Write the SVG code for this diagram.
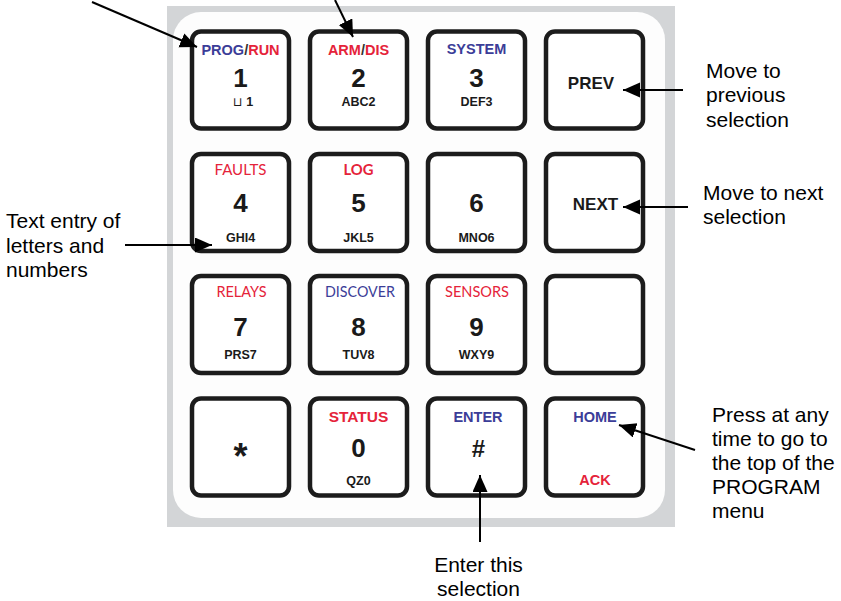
<svg xmlns="http://www.w3.org/2000/svg" width="841" height="601" viewBox="0 0 841 601">
  <style>
    .key { fill: #ffffff; stroke: #1c1c1c; stroke-width: 4.5; }
    .bl { font-family: "Liberation Sans", Arial, sans-serif; font-weight: bold; font-size: 14.5px; text-anchor: middle; }
    .gs { font-family: Lato, "Liberation Sans", sans-serif; font-size: 14.5px; text-anchor: middle; }
    .dg { font-family: "Liberation Sans", Arial, sans-serif; font-weight: bold; font-size: 26px; text-anchor: middle; fill: #1a1a1a; }
    .sb { font-family: "Liberation Sans", Arial, sans-serif; font-weight: bold; font-size: 12.5px; text-anchor: middle; fill: #1a1a1a; }
    .big { font-family: "Liberation Sans", Arial, sans-serif; font-weight: bold; font-size: 17px; text-anchor: middle; fill: #1a1a1a; }
    .blue { fill: #3b3d98; }
    .red { fill: #e5233a; }
    .dark { fill: #333333; }
    .note { font-family: "Liberation Sans", Arial, sans-serif; font-size: 21px; fill: #000000; }
    .conn { stroke: #000000; stroke-width: 2; fill: none; marker-end: url(#head); }
  </style>
  <defs>
    <marker id="head" markerUnits="userSpaceOnUse" markerWidth="18" markerHeight="16" refX="17" refY="7.5" orient="auto">
      <path d="M0,0 L17,7.5 L0,15 Z" fill="#000000"/>
    </marker>
  </defs>

  <rect width="841" height="601" fill="#ffffff"/>

  <!-- keypad housing -->
  <g id="housing">
    <rect x="167" y="6" width="508" height="521" fill="#d3d5d7"/>
    <rect x="173" y="12" width="492" height="506" rx="28" fill="#fdfdfd"/>
  </g>

  <!-- row 1 -->
  <g id="key-1">
    <rect class="key" x="192" y="31.5" width="97" height="97" rx="9"/>
    <text class="bl" x="240.5" y="54.5"><tspan class="blue">PROG</tspan><tspan class="dark">/</tspan><tspan class="red">RUN</tspan></text>
    <text class="dg" x="240.5" y="87">1</text>
    <text class="sb" x="243" y="106"><tspan style="font-family:'DejaVu Sans', sans-serif; font-weight:normal">⊔</tspan> 1</text>
  </g>
  <g id="key-2">
    <rect class="key" x="310" y="31.5" width="97" height="97" rx="9"/>
    <text class="bl" x="358.5" y="54.5"><tspan class="red">ARM</tspan><tspan class="dark">/</tspan><tspan class="red">DIS</tspan></text>
    <text class="dg" x="358.5" y="87">2</text>
    <text class="sb" x="358.5" y="106">ABC2</text>
  </g>
  <g id="key-3">
    <rect class="key" x="428" y="31.5" width="97" height="97" rx="9"/>
    <text class="bl blue" x="476.5" y="53.5">SYSTEM</text>
    <text class="dg" x="476.5" y="87">3</text>
    <text class="sb" x="476.5" y="106">DEF3</text>
  </g>
  <g id="key-prev">
    <rect class="key" x="546" y="31.5" width="97" height="97" rx="9"/>
    <text class="big" x="591" y="89">PREV</text>
  </g>

  <!-- row 2 -->
  <g id="key-4">
    <rect class="key" x="192" y="154" width="97" height="97" rx="9"/>
    <text class="gs red" x="240.5" y="175" textLength="52" lengthAdjust="spacingAndGlyphs">FAULTS</text>
    <text class="dg" x="240.5" y="212">4</text>
    <text class="sb" x="240.5" y="242">GHI4</text>
  </g>
  <g id="key-5">
    <rect class="key" x="310" y="154" width="97" height="97" rx="9"/>
    <text class="gs red" x="358.5" y="175" style="font-weight:bold" textLength="30" lengthAdjust="spacingAndGlyphs">LOG</text>
    <text class="dg" x="358.5" y="212">5</text>
    <text class="sb" x="358.5" y="242">JKL5</text>
  </g>
  <g id="key-6">
    <rect class="key" x="428" y="154" width="97" height="97" rx="9"/>
    <text class="dg" x="476.5" y="212">6</text>
    <text class="sb" x="476.5" y="242">MNO6</text>
  </g>
  <g id="key-next">
    <rect class="key" x="546" y="154" width="97" height="97" rx="9"/>
    <text class="big" x="595.5" y="210">NEXT</text>
  </g>

  <!-- row 3 -->
  <g id="key-7">
    <rect class="key" x="192" y="276" width="97" height="97" rx="9"/>
    <text class="gs red" x="241.5" y="297" textLength="50" lengthAdjust="spacingAndGlyphs">RELAYS</text>
    <text class="dg" x="240.5" y="336">7</text>
    <text class="sb" x="240.5" y="359">PRS7</text>
  </g>
  <g id="key-8">
    <rect class="key" x="310" y="276" width="97" height="97" rx="9"/>
    <text class="gs blue" x="360" y="297" textLength="70" lengthAdjust="spacingAndGlyphs">DISCOVER</text>
    <text class="dg" x="358.5" y="336">8</text>
    <text class="sb" x="358.5" y="359">TUV8</text>
  </g>
  <g id="key-9">
    <rect class="key" x="428" y="276" width="97" height="97" rx="9"/>
    <text class="gs red" x="477" y="297" textLength="64" lengthAdjust="spacingAndGlyphs">SENSORS</text>
    <text class="dg" x="476.5" y="336">9</text>
    <text class="sb" x="476.5" y="359">WXY9</text>
  </g>
  <g id="key-blank">
    <rect class="key" x="546" y="276" width="97" height="97" rx="9"/>
  </g>

  <!-- row 4 -->
  <g id="key-star">
    <rect class="key" x="192" y="398.5" width="97" height="97" rx="9"/>
    <text class="dg" x="240.5" y="469" style="font-size:36px">*</text>
  </g>
  <g id="key-0">
    <rect class="key" x="310" y="398.5" width="97" height="97" rx="9"/>
    <text class="bl red" x="358.5" y="422" style="font-size:15.5px">STATUS</text>
    <text class="dg" x="358.5" y="457">0</text>
    <text class="sb" x="358.5" y="485">QZ0</text>
  </g>
  <g id="key-hash">
    <rect class="key" x="428" y="398.5" width="97" height="97" rx="9"/>
    <text class="bl blue" x="478" y="422">ENTER</text>
    <text class="dg" x="478.5" y="457" style="font-size:24px">#</text>
  </g>
  <g id="key-home">
    <rect class="key" x="546" y="398.5" width="97" height="97" rx="9"/>
    <text class="bl blue" x="595" y="422">HOME</text>
    <text class="bl red" x="595" y="485">ACK</text>
  </g>

  <!-- callout labels -->
  <g id="note-text-entry">
    <text class="note" x="6" y="228">Text entry of</text>
    <text class="note" x="6" y="252.5">letters and</text>
    <text class="note" x="6" y="277">numbers</text>
  </g>
  <g id="note-prev">
    <text class="note" x="706" y="77.5">Move to</text>
    <text class="note" x="706" y="102">previous</text>
    <text class="note" x="706" y="126.5">selection</text>
  </g>
  <g id="note-next">
    <text class="note" x="703" y="200">Move to next</text>
    <text class="note" x="703" y="224">selection</text>
  </g>
  <g id="note-home">
    <text class="note" x="712" y="421.5">Press at any</text>
    <text class="note" x="712" y="445.5">time to go to</text>
    <text class="note" x="712" y="469.5">the top of the</text>
    <text class="note" x="712" y="493.5">PROGRAM</text>
    <text class="note" x="712" y="517.5">menu</text>
  </g>
  <g id="note-enter">
    <text class="note" x="478.5" y="572" style="text-anchor:middle">Enter this</text>
    <text class="note" x="478.5" y="596" style="text-anchor:middle">selection</text>
  </g>

  <!-- connectors -->
  <g id="connectors">
    <line class="conn" x1="92" y1="2" x2="197" y2="47"/>
    <line class="conn" x1="335" y1="0" x2="353" y2="37"/>
    <line class="conn" x1="125" y1="245" x2="212" y2="245"/>
    <line class="conn" x1="683" y1="90" x2="623" y2="90"/>
    <line class="conn" x1="688" y1="207" x2="623" y2="207"/>
    <line class="conn" x1="695" y1="450" x2="619" y2="425"/>
    <line class="conn" x1="480" y1="542" x2="480" y2="475"/>
  </g>
</svg>
